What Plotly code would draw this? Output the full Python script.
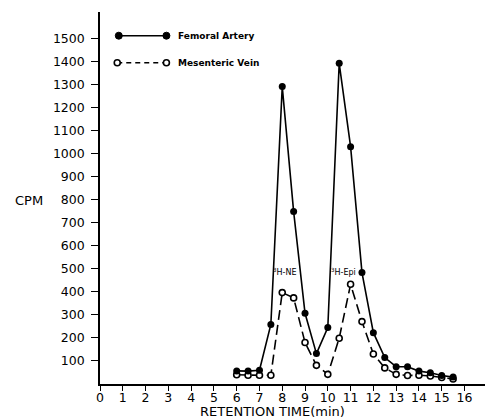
import plotly.graph_objects as go

# ---- data ----
retention_time = [6, 6.5, 7, 7.5, 8, 8.5, 9, 9.5, 10, 10.5, 11, 11.5, 12, 12.5, 13, 13.5, 14, 14.5, 15, 15.5]
femoral_artery = [57, 56, 60, 259, 1292, 749, 307, 132, 245, 1393, 1031, 484, 223, 115, 75, 75, 56, 49, 37, 30]
mesenteric_vein = [40, 38, 38, 38, 397, 374, 180, 81, 42, 199, 433, 271, 130, 70, 42, 37, 38, 35, 28, 22]

x_ticks = list(range(0, 17))
y_ticks = list(range(100, 1600, 100))

peak_labels = ["<sup>3</sup>H-NE", "<sup>3</sup>H-Epi"]
peak_label_x = [8.1, 10.68]
peak_label_y = [485, 485]

legend_names = ["Femoral Artery", "Mesenteric Vein"]

FONT = "DejaVu Sans"

fig = go.Figure()

fig.add_trace(go.Scatter(
    x=retention_time, y=mesenteric_vein, mode="lines+markers",
    line=dict(color="black", width=1.6, dash="10px,5px"),
    marker=dict(symbol="circle", size=6, color="white", line=dict(color="black", width=1.6)),
    name=legend_names[1], showlegend=False, cliponaxis=False,
))
fig.add_trace(go.Scatter(
    x=retention_time, y=femoral_artery, mode="lines+markers",
    line=dict(color="black", width=1.6),
    marker=dict(symbol="circle", size=7, color="black"),
    name=legend_names[0], showlegend=False, cliponaxis=False,
))

# ---- manual legend (paper coordinates) ----
shapes = []
lx0, lx1 = 0.0488, 0.1725
ly_f, ly_m = 0.9363, 0.8637
shapes.append(dict(type="line", xref="paper", yref="paper", x0=lx0, x1=lx1, y0=ly_f, y1=ly_f,
                   line=dict(color="black", width=1.6)))
shapes.append(dict(type="line", xref="paper", yref="paper", x0=lx0 - 0.004, x1=lx1, y0=ly_m, y1=ly_m,
                   line=dict(color="black", width=1.6, dash="5px,4px")))
for xa in (lx0, lx1):
    shapes.append(dict(type="circle", xref="paper", yref="paper", xsizemode="pixel", ysizemode="pixel",
                       xanchor=xa, yanchor=ly_f, x0=-3.5, x1=3.5, y0=-3.5, y1=3.5,
                       fillcolor="black", line=dict(color="black", width=1)))
for xa in (lx0 - 0.004, lx1):
    shapes.append(dict(type="circle", xref="paper", yref="paper", xsizemode="pixel", ysizemode="pixel",
                       xanchor=xa, yanchor=ly_m, x0=-3, x1=3, y0=-3, y1=3,
                       fillcolor="white", line=dict(color="black", width=1.6)))

annotations = [
    dict(text=legend_names[0], xref="paper", yref="paper", x=0.1984, y=ly_f, xanchor="left", yanchor="middle",
         showarrow=False, font=dict(family=FONT, size=9, color="black", weight="bold")),
    dict(text=legend_names[1], xref="paper", yref="paper", x=0.1984, y=ly_m, xanchor="left", yanchor="middle",
         showarrow=False, font=dict(family=FONT, size=9, color="black", weight="bold")),
    dict(text="CPM", xref="paper", yref="paper", x=(28 - 99.5) / 385.5, y=(384 - 200) / 372, xanchor="center",
         yanchor="middle", showarrow=False, font=dict(family=FONT, size=13, color="black")),
    dict(text="RETENTION TIME(min)", xref="paper", yref="paper", x=(272 - 99.5) / 385.5, y=-(411 - 384) / 372,
         xanchor="center", yanchor="middle", showarrow=False, font=dict(family=FONT, size=13, color="black")),
]
for txt, xv, yv in zip(peak_labels, peak_label_x, peak_label_y):
    annotations.append(dict(text=txt, x=xv, y=yv, xref="x", yref="y", showarrow=False,
                            font=dict(family=FONT, size=8, color="black")))

fig.update_layout(
    width=485, height=418,
    margin=dict(l=99.5, r=0, t=12, b=34),
    paper_bgcolor="white", plot_bgcolor="white",
    font=dict(family=FONT, size=12.5, color="black"),
    shapes=shapes, annotations=annotations,
    xaxis=dict(range=[0, 16.9], tickvals=x_ticks, ticktext=[str(v) for v in x_ticks],
               showgrid=False, zeroline=False, showline=True, linecolor="black", linewidth=1.6,
               ticks="outside", ticklen=5, tickwidth=1.3, tickcolor="black", ticklabelstandoff=-4,
               tickfont=dict(family=FONT, size=12.5, color="black")),
    yaxis=dict(range=[0, 1616], tickvals=y_ticks, ticktext=[str(v) for v in y_ticks],
               showgrid=False, zeroline=False, showline=True, linecolor="black", linewidth=1.6,
               ticks="outside", ticklen=7, tickwidth=1.3, tickcolor="black", ticklabelstandoff=4,
               tickfont=dict(family=FONT, size=12.5, color="black")),
)

fig.write_html("out.html")
